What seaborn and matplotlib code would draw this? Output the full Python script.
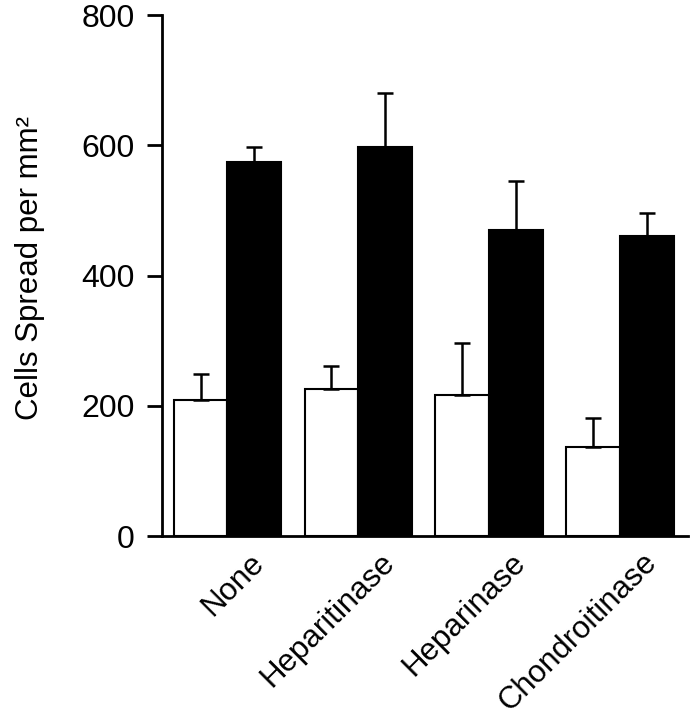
import seaborn as sns
import pandas as pd
import matplotlib.pyplot as plt
from matplotlib.transforms import ScaledTranslation

treatments = ["None", "Heparitinase", "Heparinase", "Chondroitinase"]
open_means = [209, 225, 217, 137]
open_err = [40, 36, 80, 44]
filled_means = [574, 598, 470, 461]
filled_err = [23, 82, 75, 35]

df = pd.DataFrame({
    "treatment": treatments * 2,
    "group": ["open"] * 4 + ["filled"] * 4,
    "cells": open_means + filled_means,
})

sns.set_style("ticks")
plt.rcParams["font.family"] = ["Liberation Sans", "DejaVu Sans"]
plt.rcParams["text.color"] = "black"
plt.rcParams["axes.labelcolor"] = "black"
plt.rcParams["xtick.color"] = "black"
plt.rcParams["ytick.color"] = "black"
plt.rcParams["axes.edgecolor"] = "black"

fig = plt.figure(figsize=(6.95, 7.19), dpi=100)
ax = fig.add_axes([0.2331, 0.2545, 0.9899 - 0.2331, 0.9791 - 0.2545])

sns.barplot(data=df, x="treatment", y="cells", hue="group",
            palette=["white", "black"], edgecolor="black", linewidth=1.5,
            width=0.82, errorbar=None, legend=False, saturation=1, ax=ax)

# upper-only error bars on top of each bar
for cont, errs in zip(ax.containers, [open_err, filled_err]):
    xs = [p.get_x() + p.get_width() / 2 for p in cont]
    ys = [p.get_height() for p in cont]
    ax.errorbar(xs, ys, yerr=[[0] * len(errs), errs], fmt="none",
                ecolor="black", elinewidth=1.8, capsize=6, capthick=1.8,
                zorder=1)

ax.set_ylim(0, 800)
ax.set_xlim(-0.5, 3.52)
ax.set_yticks([0, 200, 400, 600, 800])
ax.set_xlabel("")
ax.set_ylabel("Cells Spread per mm²", fontsize=22.5)
ax.yaxis.set_label_coords(-0.222, 0.515)

sns.despine(ax=ax)
for s in ["left", "bottom"]:
    ax.spines[s].set_linewidth(2)
ax.tick_params(axis="y", length=10.8, width=2, pad=9, labelsize=23)
ax.tick_params(axis="x", length=0, pad=16, labelsize=22.5)

offset = ScaledTranslation(0.32, 0, fig.dpi_scale_trans)
for lab in ax.get_xticklabels():
    lab.set_rotation(45)
    lab.set_ha("right")
    lab.set_va("center")
    lab.set_rotation_mode("anchor")
    lab.set_transform(lab.get_transform() + offset)

fig.savefig("out.png", dpi=100)
